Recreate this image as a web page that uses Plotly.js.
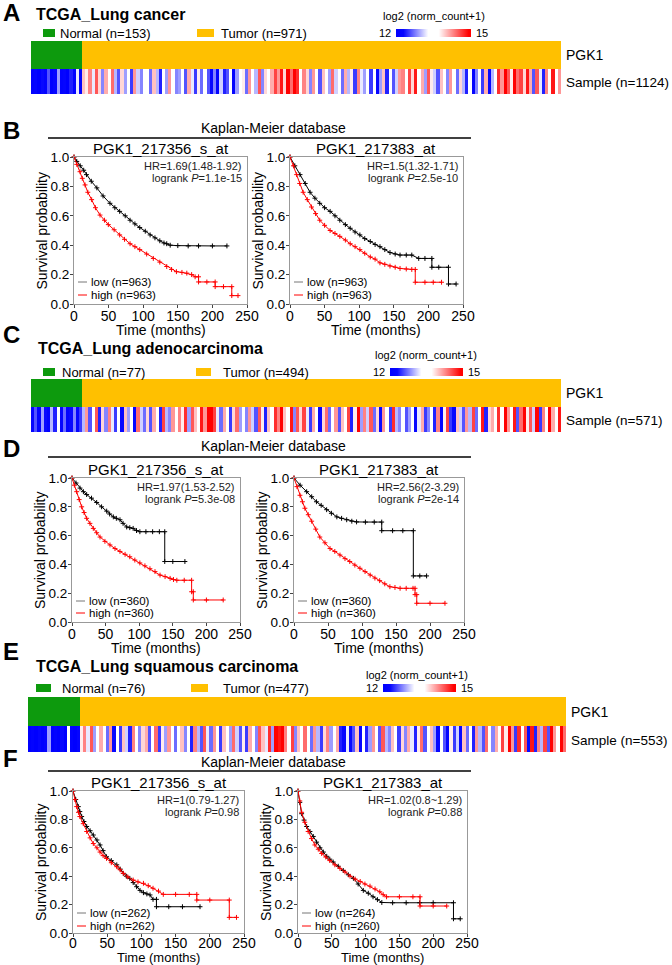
<!DOCTYPE html>
<html><head><meta charset="utf-8">
<script src="https://cdn.plot.ly/plotly-3.0.1.min.js"></script>
<style>html,body{margin:0;padding:0;background:#fff}#chart{width:672px;height:965px}</style>
</head><body><div id="chart"></div>
<script>
// ---------------- DATA ----------------
// Panel A: TCGA Lung cancer (values in log2(norm_count+1), read approximately per visible stripe)
const aNormal = [12.1,12.2,12.0,12.3,12.1,12.6,12.0,12.2,12.9,12.1,12.2,12.0,12.4,12.1,13.2,12.2];
const aTumor = [
14.0,13.8,14.3,13.2,14.5,13.9,12.8,14.1,13.6,14.4, 13.0,12.6,13.9,12.9,13.4,12.5,14.2,13.1,12.8,13.7,
13.3,12.7,14.0,13.0,12.4,13.6,12.9,14.2,13.4,12.8, 12.9,13.5,12.6,14.1,13.2,12.5,13.8,12.7,13.4,12.6,
12.3,12.8,12.2,13.1,12.4,12.6,13.5,12.2,12.9,13.3, 13.8,12.7,14.2,13.4,13.0,14.5,12.8,13.9,13.3,14.1,
14.6,14.2,14.8,13.9,14.9,14.4,15.0,14.7,13.6,14.3, 13.9,12.8,14.2,13.3,12.6,14.0,13.6,12.9,14.4,13.1,
13.5,12.7,14.1,13.0,13.8,12.5,14.3,13.2,12.9,13.7, 12.5,13.3,12.3,12.9,14.0,12.4,13.6,12.6,13.1,14.2,
14.3,13.7,14.6,13.9,14.8,13.4,14.1,12.9,14.5,13.8, 13.1,12.6,14.0,13.5,12.8,14.2,13.3,12.7,13.9,13.0,
12.4,13.4,12.2,12.8,13.7,12.5,14.1,12.3,13.0,13.6, 14.7,14.2,15.0,14.5,13.8,14.9,14.4,14.6,13.9,14.8,
14.1,12.6,14.5,13.2,12.4,14.3,13.7,14.8,13.5,14.2];
// Panel C: TCGA Lung adenocarcinoma
const cNormal = [12.2,12.6,12.1,12.9,12.3,12.0,13.0,12.4,13.4,12.2,12.7,12.1,12.3,12.8,12.2,12.5];
const cTumor = [
13.0,14.2,12.6,13.6,14.5,12.4,13.9,12.8,14.3,13.2, 12.5,13.7,12.3,14.0,12.9,13.4,12.2,14.4,13.1,12.7,
13.9,12.6,14.1,13.3,12.4,14.6,13.0,12.8,14.2,13.5, 14.3,13.8,14.7,12.9,14.5,14.0,13.5,14.8,14.2,14.9,
15.0,14.6,13.2,12.7,14.1,13.5,12.5,13.9,14.4,12.9, 13.6,12.8,14.2,13.1,12.6,14.5,13.8,12.4,14.0,13.3,
14.7,14.3,15.0,14.0,13.4,14.8,12.8,14.5,13.9,14.6, 13.2,12.5,14.1,13.6,12.3,13.9,14.4,12.7,13.5,14.2,
12.6,14.0,13.3,14.6,12.4,13.8,14.9,12.9,14.3,13.1, 14.5,12.7,13.9,12.3,14.2,13.5,12.5,14.7,13.0,12.8,
13.4,12.6,12.9,13.7,12.3,13.2,14.1,12.5,12.8,13.6, 12.4,14.3,12.2,13.8,14.6,12.5,12.3,14.0,13.1,12.6,
14.2,13.0,14.6,12.7,13.5,14.8,12.4,13.9,14.1,13.3, 14.7,13.6,15.0,14.2,13.3,14.8,12.6,14.4,14.9,13.8,
14.5,13.1,14.9,12.5,14.3,13.7,15.0,14.1,13.4,14.8];
// Panel E: TCGA Lung squamous carcinoma
const eNormal = [12.0,12.1,12.0,12.2,12.0,12.1,12.9,12.0,12.1,12.0,12.3,12.0,13.3,12.1,12.0,12.2];
const eTumor = [
13.8,14.3,13.2,14.5,12.9,13.7,14.1,13.4,12.7,14.2, 12.3,13.5,12.5,14.0,13.1,12.4,14.3,13.6,12.8,13.9,
14.1,12.6,13.4,14.4,12.5,13.8,12.9,14.2,13.3,12.7, 13.5,14.0,12.8,13.6,12.4,14.3,13.0,12.6,14.5,13.2,
12.7,14.2,13.3,12.5,14.0,13.6,12.9,14.4,13.1,12.6, 13.8,12.5,14.1,13.4,12.8,14.5,14.0,13.2,14.7,12.9,
15.0,14.8,14.9,14.3,13.5,14.6,12.8,14.0,13.6,14.4, 13.3,12.7,14.2,13.0,12.5,13.9,14.3,12.9,13.6,14.1,
12.4,12.2,13.2,12.3,12.6,14.0,12.2,13.5,12.4,12.9, 14.2,13.4,12.6,14.5,13.0,12.8,14.0,13.7,12.5,13.9,
12.8,14.1,13.2,12.4,13.8,14.4,12.6,13.5,14.0,12.9, 12.3,13.4,12.6,12.2,13.8,12.5,13.1,12.3,14.0,12.7,
13.5,12.4,14.2,13.0,12.6,14.4,13.7,12.8,14.1,13.3, 14.6,13.8,14.9,14.2,12.5,14.7,13.4,14.5,12.3,14.8,
12.4,14.3,13.0,14.6,12.6,15.0,14.2,13.6,14.9,14.4];

// Kaplan-Meier curves (time in months, survival probability)
const bL_lowT  = [0,4,9,14,18,25,33,42,52,59,66,74,81,88,95,103,110,117,124,130,134,139,150,165,180,200,221];
const bL_lowS  = [1,0.97,0.94,0.91,0.88,0.835,0.79,0.735,0.685,0.655,0.63,0.60,0.57,0.545,0.52,0.495,0.47,0.45,0.43,0.415,0.41,0.40,0.397,0.395,0.395,0.395,0.395];
const bL_highT = [0,4,8.7,12,16,20,25.5,31,37.6,44,49.6,58,66,73,81,88,95,105,114.6,124,134,141,148,156,163,170,175,180,180,192,204,204,216,228,228,237];
const bL_highS = [1,0.95,0.90,0.855,0.81,0.76,0.71,0.655,0.605,0.57,0.54,0.505,0.47,0.44,0.41,0.39,0.37,0.34,0.31,0.285,0.255,0.235,0.22,0.215,0.21,0.2,0.185,0.185,0.15,0.15,0.15,0.118,0.118,0.118,0.057,0.057];
const bR_lowT  = [0,7,14.5,22,29,36,43,50,58,65,72,80,87,94,101,108,116,123,130,137,144.5,152,159,168,176,186,195,205,205,215,229,229,240];
const bR_lowS  = [1,0.94,0.88,0.82,0.76,0.72,0.685,0.655,0.63,0.60,0.57,0.54,0.515,0.49,0.47,0.445,0.425,0.405,0.39,0.37,0.35,0.34,0.333,0.333,0.333,0.31,0.31,0.31,0.25,0.25,0.25,0.136,0.136];
const bR_highT = [0,5,9.6,14,19,25,31,37,43,50,58,65,72,80,87,94,101,108,116,123,130,137,144.5,152,159,168,176,181,181,195,207,219];
const bR_highS = [1,0.94,0.88,0.82,0.76,0.71,0.66,0.615,0.57,0.535,0.50,0.48,0.46,0.435,0.41,0.39,0.37,0.345,0.32,0.305,0.28,0.27,0.258,0.25,0.242,0.238,0.235,0.235,0.148,0.148,0.148,0.148];
const dL_lowT  = [0,6,11.9,17,21.8,29,36.7,44,51.6,56,61.5,66,71.4,76,81.4,86,91,96,101,110,120,130,138,138,150,168];
const dL_lowS  = [1,0.965,0.93,0.905,0.885,0.86,0.83,0.80,0.77,0.75,0.73,0.72,0.71,0.685,0.66,0.655,0.65,0.635,0.627,0.627,0.627,0.627,0.627,0.42,0.42,0.42];
const dL_highT = [0,3.5,7,10.7,14.4,18,21.8,26.7,31.7,36.7,41.7,49,56.5,64,71.4,79,86,93.5,101,108.5,116,123.5,131,138.5,146,151,156,167,178,178,180.5,180.5,200,225];
const dL_highS = [1,0.95,0.905,0.85,0.80,0.76,0.72,0.685,0.65,0.62,0.59,0.56,0.535,0.51,0.49,0.47,0.453,0.43,0.41,0.39,0.37,0.35,0.326,0.315,0.303,0.295,0.29,0.29,0.29,0.21,0.21,0.153,0.153,0.153];
const dR_lowT  = [0,9,18.6,26,33,40,48,55,63,70,77.5,85,92,105,118,129,129,145,160,175.5,175.5,185,195];
const dR_lowS  = [1,0.95,0.905,0.87,0.835,0.81,0.78,0.755,0.73,0.72,0.71,0.70,0.695,0.694,0.694,0.694,0.634,0.634,0.634,0.634,0.32,0.32,0.32];
const dR_highT = [0,4.4,8.8,12.4,16,21,26,32,38,45.5,53,60,67.6,75,82,89.5,97,104.5,112,119,126,133.5,141,148.5,156,165,175,178,178,180.5,180.5,200,222];
const dR_highS = [1,0.94,0.88,0.835,0.79,0.745,0.70,0.645,0.59,0.55,0.51,0.49,0.465,0.44,0.42,0.395,0.373,0.35,0.326,0.305,0.287,0.265,0.245,0.24,0.234,0.234,0.234,0.234,0.19,0.19,0.13,0.13,0.13];
const fL_lowT  = [0,4,7.8,10,12.7,16,20,25,29.7,35,39.5,44,49,56,64,69,73.6,78,83,88,93,98,103,108,112.6,117,122,122,140,160,185.7];
const fL_lowS  = [1,0.94,0.89,0.855,0.82,0.785,0.75,0.72,0.69,0.655,0.62,0.58,0.537,0.51,0.48,0.45,0.42,0.40,0.385,0.355,0.326,0.30,0.284,0.275,0.268,0.237,0.237,0.185,0.185,0.185,0.185];
const fL_highT = [0,2.7,5.4,8,10,15,20,25,29.7,35,39.5,44,49,56,64,69,73.6,80,88,95,103,110,117,125,132,150,170,181,181,200,228.5,228.5,239];
const fL_highS = [1,0.94,0.89,0.85,0.82,0.77,0.715,0.67,0.63,0.60,0.57,0.545,0.525,0.495,0.467,0.445,0.42,0.395,0.373,0.36,0.35,0.333,0.315,0.295,0.272,0.272,0.272,0.272,0.232,0.232,0.232,0.11,0.11];
const fR_lowT  = [0,2.7,5.4,9,12.8,17.7,22.6,27.5,32.5,37.5,42.5,47,52,59.5,67,74.5,82,89,96.6,104,111,117.5,124,140,160,180,200,230,230,240];
const fR_lowS  = [1,0.92,0.84,0.795,0.75,0.715,0.68,0.64,0.60,0.57,0.54,0.52,0.50,0.47,0.44,0.41,0.385,0.345,0.30,0.28,0.255,0.235,0.215,0.213,0.213,0.213,0.213,0.213,0.10,0.10];
const fR_highT = [0,2.7,5.4,10,15,20,25,30,35,41,47,54.5,62,69.5,77,84.5,92,99,106.5,114,121,126,131,150,170,180.5,180.5,200,220];
const fR_highS = [1,0.93,0.85,0.78,0.715,0.665,0.62,0.59,0.56,0.535,0.51,0.48,0.455,0.43,0.40,0.38,0.363,0.345,0.33,0.31,0.29,0.27,0.255,0.255,0.255,0.255,0.19,0.19,0.19];

const xTicks = [0,50,100,150,200,250];
const yTicks = [0,0.2,0.4,0.6,0.8,1.0];

// ---------------- BUILD ----------------
const W = 672, H = 965;
const FONT = 'Liberation Sans, Arial, Helvetica, sans-serif';
const GREEN = '#0d9a0d', YELLOW = '#ffc000';
const CS = [[0,'#0000ff'],[0.1,'#0808ff'],[0.43,'#ffffff'],[0.57,'#ffffff'],[0.97,'#ff0000'],[1,'#ff0000']];
const px = v => v / W;
const py = v => 1 - v / H;

const layout = {
  width: W, height: H, margin: {l:0,r:0,t:0,b:0},
  paper_bgcolor: '#fff', plot_bgcolor: '#fff', showlegend: false,
  font: {family: FONT, color: '#000'},
  annotations: [], shapes: []
};
const traces = [];
let nx = 0, ny = 0;
function newX(o){ nx++; layout[nx===1?'xaxis':'xaxis'+nx] = o; return nx===1?'x':'x'+nx; }
function newY(o){ ny++; layout[ny===1?'yaxis':'yaxis'+ny] = o; return ny===1?'y':'y'+ny; }
function axKey(ref){ return ref.length===1 ? ref+'axis' : ref[0]+'axis'+ref.slice(1); }

function T(text, x, y, size, opts){
  layout.annotations.push(Object.assign({
    text, x: px(x), y: py(y), xref:'paper', yref:'paper', showarrow:false,
    xanchor:'left', yanchor:'middle', font:{size, family:FONT, color:'#000'}
  }, opts||{}));
}
function rect(x0,y0,x1,y1,color){
  layout.shapes.push({type:'rect', xref:'paper', yref:'paper', x0:px(x0), x1:px(x1), y0:py(y1), y1:py(y0), fillcolor:color, line:{width:0}});
}
function hline(x0,x1,y,color,w){
  layout.shapes.push({type:'line', xref:'paper', yref:'paper', x0:px(x0), x1:px(x1), y0:py(y), y1:py(y), line:{color, width:w}});
}

function heatPanel(p){
  const vals = p.normal.concat(p.tumor);
  const idx = vals.map((_, i) => i);
  const grp = vals.map((_, i) => i < p.normal.length ? 0 : 1);
  const xa = newX({domain:[px(p.L), px(p.R)], range:[-0.5, vals.length-0.5], visible:false, fixedrange:true});
  const ya1 = newY({domain:[py(p.mid), py(p.top)], range:[-0.5,0.5], visible:false});
  const ya2 = newY({domain:[py(p.bot), py(p.mid)], range:[-0.5,0.5], visible:false});
  layout[axKey(xa)].anchor = ya2;
  layout[axKey(ya1)].anchor = xa;
  layout[axKey(ya2)].anchor = xa;
  traces.push({type:'heatmap', x:idx, y:[0], z:[grp], xaxis:xa, yaxis:ya1,
    colorscale:[[0,GREEN],[0.5,GREEN],[0.5,YELLOW],[1,YELLOW]], zmin:0, zmax:1, showscale:false, hoverinfo:'skip'});
  traces.push({type:'heatmap', x:idx, y:[0], z:[vals], xaxis:xa, yaxis:ya2,
    colorscale:CS, zmin:12, zmax:15, showscale:true, hoverinfo:'skip',
    colorbar:{orientation:'h', x:px(p.cbL), xanchor:'left', y:py(p.cbY), yanchor:'middle',
      len:p.cbLen, lenmode:'pixels', thickness:8, thicknessmode:'pixels', outlinewidth:0,
      showticklabels:false, ticks:'', xpad:0, ypad:0}});
  // header texts
  T('<b>'+p.letter+'</b>', 1, p.letterY, 24);
  T('<b>'+p.title+'</b>', p.titleX, p.titleY, 16);
  rect(p.gx0, p.legY-4, p.gx1, p.legY+4, GREEN);
  T(p.normText, p.nTextX, p.legY, 13);
  rect(p.yx0, p.legY-4, p.yx1, p.legY+4, YELLOW);
  T(p.tumText, p.tTextX, p.legY, 13);
  T('log2 (norm_count+1)', p.logX, p.logY, 11);
  T(p.cbTicks[0], p.cbL-3, p.cbY, 11, {xanchor:'right'});
  T(p.cbTicks[1], p.cbL+p.cbLen+3, p.cbY, 11);
  T('PGK1', p.R+3, (p.top+p.mid)/2, 14);
  T(p.sampleText, p.R+3, (p.mid+p.bot)/2+1, 13.5);
}

function kmPanel(p){
  const xa = newX({domain:[px(p.L), px(p.R)], range:[0,250], tickvals:xTicks, ticktext:xTicks.map(String),
    ticks:'outside', ticklen:3, tickcolor:'#444', showline:true, mirror:true, linecolor:'#999', linewidth:1,
    showgrid:false, zeroline:false, tickfont:{size:14, family:FONT}, ticklabelstandoff:(p.xStand||-4), fixedrange:true});
  const ya = newY({domain:[py(p.B), py(p.T)], range:[0,1], tickvals:yTicks, ticktext:yTicks.map(v=>v.toFixed(1)),
    ticks:'outside', ticklen:3, tickcolor:'#444', showline:true, mirror:true, linecolor:'#999', linewidth:1,
    showgrid:false, zeroline:false, tickfont:{size:13.5, family:FONT}, ticklabelstandoff:-2, fixedrange:true});
  layout[axKey(xa)].anchor = ya;
  layout[axKey(ya)].anchor = xa;
  const mk = c => ({symbol:'cross-thin-open', size:3.5, color:c, line:{width:1, color:c}});
  traces.push({type:'scatter', mode:'lines+markers', x:p.lowT, y:p.lowS, xaxis:xa, yaxis:ya,
    line:{color:'#000', width:1}, marker:mk('#000'), hoverinfo:'skip', cliponaxis:false});
  traces.push({type:'scatter', mode:'lines+markers', x:p.highT, y:p.highS, xaxis:xa, yaxis:ya,
    line:{color:'#ff0000', width:1}, marker:mk('#ff0000'), hoverinfo:'skip', cliponaxis:false});
  T(p.title, (p.L+p.R)/2, p.T-9, 15, {xanchor:'center'});
  T(p.hr, p.R-3, p.T+9, 11, {xanchor:'right', font:{size:11, family:FONT, color:'#222'}});
  T('logrank <i>P</i>='+p.pval, p.R-3, p.T+21, 11, {xanchor:'right', font:{size:11, family:FONT, color:'#222'}});
  T('Survival probability', p.L-32, (p.T+p.B)/2, 14, {xanchor:'center', textangle:-90});
  T('Time (months)', (p.L+p.R)/2, p.B+(p.timeOff||26), (p.timeSize||14), {xanchor:'center'});
  hline(p.L+4, p.L+13, p.legLowY, '#777', 1);
  T(p.lowText, p.L+15, p.legLowY, 11.5);
  hline(p.L+4, p.L+13, p.legHighY, '#ff0000', 1);
  T(p.highText, p.L+15, p.legHighY, 11.5);
}

function kmHeader(y, lineY){
  T('Kaplan-Meier database', 273, y, 14, {xanchor:'center'});
  hline(48, 471, lineY, '#000', 1.3);
}

// Panel A
heatPanel({normal:aNormal, tumor:aTumor, L:31, R:561, top:41, mid:69, bot:94,
  letter:'A', letterY:13, title:'TCGA_Lung cancer', titleX:34, titleY:14,
  legY:33, gx0:43, gx1:55, nTextX:58, yx0:197, yx1:214, tTextX:219,
  normText:'Normal (n=153)', tumText:'Tumor (n=971)', logX:381, logY:16,
  cbL:396, cbLen:75, cbY:33, cbTicks:['12','15'], sampleText:'Sample (n=1124)'});
// Panel B
T('<b>B</b>', 1, 131, 24);
kmHeader(128, 138);
kmPanel({L:74, R:247, T:157, B:304, lowT:bL_lowT, lowS:bL_lowS, highT:bL_highT, highS:bL_highS,
  title:'PGK1_217356_s_at', hr:'HR=1.69(1.48-1.92)', pval:'1.1e-15',
  legLowY:282, legHighY:295, lowText:'low (n=963)', highText:'high (n=963)'});
kmPanel({L:290, R:463, T:157, B:304, lowT:bR_lowT, lowS:bR_lowS, highT:bR_highT, highS:bR_highS,
  title:'PGK1_217383_at', hr:'HR=1.5(1.32-1.71)', pval:'2.5e-10',
  legLowY:282, legHighY:295, lowText:'low (n=963)', highText:'high (n=963)'});
// Panel C
heatPanel({normal:cNormal, tumor:cTumor, L:31, R:561, top:379, mid:407, bot:432,
  letter:'C', letterY:334, title:'TCGA_Lung adenocarcinoma', titleX:36, titleY:348,
  legY:372, gx0:43, gx1:55, nTextX:60, yx0:196, yx1:211, tTextX:221,
  normText:'Normal (n=77)', tumText:'Tumor (n=494)', logX:373, logY:355,
  cbL:390, cbLen:73, cbY:372, cbTicks:['12','15'], sampleText:'Sample (n=571)'});
// Panel D
T('<b>D</b>', 1, 448, 24);
kmHeader(446, 457);
kmPanel({L:72, R:240, T:478, B:622, lowT:dL_lowT, lowS:dL_lowS, highT:dL_highT, highS:dL_highS,
  title:'PGK1_217356_s_at', hr:'HR=1.97(1.53-2.52)', pval:'5.3e-08',
  legLowY:601, legHighY:613, lowText:'low (n=360)', highText:'high (n=360)'});
kmPanel({L:294, R:464, T:478, B:622, lowT:dR_lowT, lowS:dR_lowS, highT:dR_highT, highS:dR_highS,
  title:'PGK1_217383_at', hr:'HR=2.56(2-3.29)', pval:'2e-14',
  legLowY:601, legHighY:613, lowText:'low (n=360)', highText:'high (n=360)'});
// Panel E
heatPanel({normal:eNormal, tumor:eTumor, L:28, R:566, top:697, mid:726, bot:752,
  letter:'E', letterY:651, title:'TCGA_Lung squamous carcinoma', titleX:34, titleY:666,
  legY:688, gx0:36, gx1:51, nTextX:60, yx0:191, yx1:208, tTextX:221,
  normText:'Normal (n=76)', tumText:'Tumor (n=477)', logX:364, logY:675,
  cbL:383, cbLen:73, cbY:688, cbTicks:['12','15'], sampleText:'Sample (n=553)'});
// Panel F
T('<b>F</b>', 1, 758, 24);
kmHeader(762, 771);
kmPanel({L:73, R:244, T:791, B:933, timeOff:24, timeSize:13, xStand:-6, lowT:fL_lowT, lowS:fL_lowS, highT:fL_highT, highS:fL_highS,
  title:'PGK1_217356_s_at', hr:'HR=1(0.79-1.27)', pval:'0.98',
  legLowY:913, legHighY:926, lowText:'low (n=262)', highText:'high (n=262)'});
kmPanel({L:298, R:467, T:791, B:933, timeOff:24, timeSize:13, xStand:-6, lowT:fR_lowT, lowS:fR_lowS, highT:fR_highT, highS:fR_highS,
  title:'PGK1_217383_at', hr:'HR=1.02(0.8~1.29)', pval:'0.88',
  legLowY:913, legHighY:926, lowText:'low (n=264)', highText:'high (n=260)'});

Plotly.newPlot('chart', traces, layout, {staticPlot:true, displayModeBar:false});
</script></body></html>
